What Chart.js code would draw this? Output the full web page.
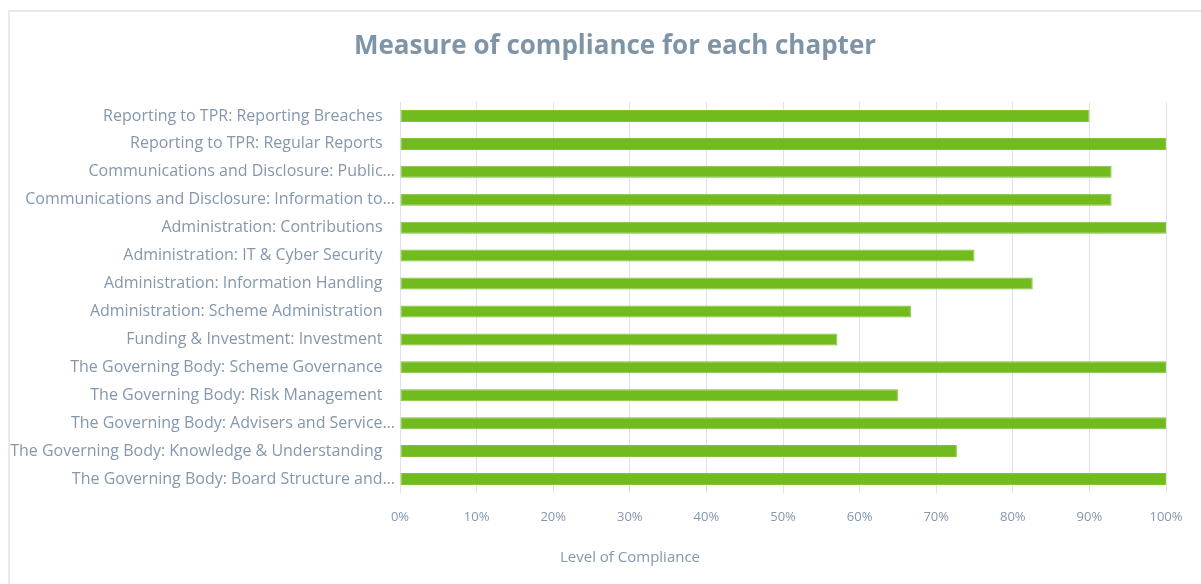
<!DOCTYPE html>
<html>
<head>
<meta charset="utf-8">
<script src="https://cdn.jsdelivr.net/npm/chart.js@4"></script>
<style>
  html, body { margin: 0; padding: 0; background: #fff; overflow: hidden; }
  #frame { position: absolute; left: 8px; top: 10px; width: 1300px; height: 700px;
           border-left: 2px solid #e8ebee; border-top: 2px solid #e8ebee; }
  #wrap { position: absolute; left: 0; top: 0; width: 1201px; height: 584px; }
</style>
</head>
<body>
<div id="frame"></div>
<div id="wrap"><canvas id="c" width="1201" height="584"></canvas></div>
<script>
const chartTitle = "Measure of compliance for each chapter";
const axisTitle = "Level of Compliance";
const categories = [
  "Reporting to TPR: Reporting Breaches\u00a0\u00a0\u00a0",
  "Reporting to TPR: Regular Reports\u00a0\u00a0\u00a0",
  "Communications and Disclosure: Public…",
  "Communications and Disclosure: Information to…",
  "Administration: Contributions\u00a0\u00a0\u00a0",
  "Administration: IT & Cyber Security\u00a0\u00a0\u00a0",
  "Administration: Information Handling\u00a0\u00a0\u00a0",
  "Administration: Scheme Administration\u00a0\u00a0\u00a0",
  "Funding & Investment: Investment\u00a0\u00a0\u00a0",
  "The Governing Body: Scheme Governance\u00a0\u00a0\u00a0",
  "The Governing Body: Risk Management\u00a0\u00a0\u00a0",
  "The Governing Body: Advisers and Service…",
  "The Governing Body: Knowledge & Understanding\u00a0\u00a0\u00a0",
  "The Governing Body: Board Structure and…"
];
const compliance = [90, 100, 92.9, 92.9, 100, 75, 82.6, 66.7, 57.1, 100, 65, 100, 72.7, 100];
const tickValues = [0, 10, 20, 30, 40, 50, 60, 70, 80, 90, 100];

const labelColor = '#8497ac';

const textPlugin = {
  id: 'texts',
  afterDraw(chart) {
    const ctx = chart.ctx;
    ctx.save();
    ctx.textAlign = 'center';
    ctx.textBaseline = 'middle';
    ctx.fillStyle = '#8094a7';
    ctx.font = 'bold 26px "Open Sans"';
    ctx.fillText(chartTitle, 615, 47);
    ctx.fillStyle = labelColor;
    ctx.font = '15px "Open Sans"';
    ctx.fillText(axisTitle, 630, 558);
    ctx.restore();
  }
};

new Chart(document.getElementById('c'), {
  type: 'bar',
  data: {
    labels: categories,
    datasets: [{
      data: compliance,
      backgroundColor: '#72bb1f',
      borderColor: '#80c43a',
      borderWidth: 1,
      borderSkipped: false,
      categoryPercentage: 0.43,
      barPercentage: 1.0
    }]
  },
  options: {
    indexAxis: 'y',
    responsive: false,
    animation: false,
    layout: { padding: { left: 0, right: 35, top: 102, bottom: 0 } },
    plugins: {
      legend: { display: false },
      tooltip: { enabled: false },
      title: { display: false }
    },
    scales: {
      x: {
        min: 0, max: 100,
        afterBuildTicks: (s) => { s.ticks = tickValues.map(v => ({ value: v })); },
        afterFit: (s) => { s.height = 91; s.paddingLeft = 0; s.paddingRight = 0; },
        ticks: {
          callback: (v) => v + '%',
          color: labelColor,
          font: { family: 'Open Sans', size: 13 },
          padding: 16,
          maxRotation: 0
        },
        grid: { color: '#dfe3e8', drawTicks: false },
        border: { display: false },
        title: { display: false }
      },
      y: {
        afterFit: (s) => { s.width = 400; s.paddingTop = 0; s.paddingBottom = 0; },
        ticks: {
          color: labelColor,
          font: { family: 'Open Sans', size: 16 },
          padding: 5,
          autoSkip: false
        },
        grid: { display: false, drawTicks: false },
        border: { display: false }
      }
    }
  },
  plugins: [textPlugin]
});
</script>
</body>
</html>
